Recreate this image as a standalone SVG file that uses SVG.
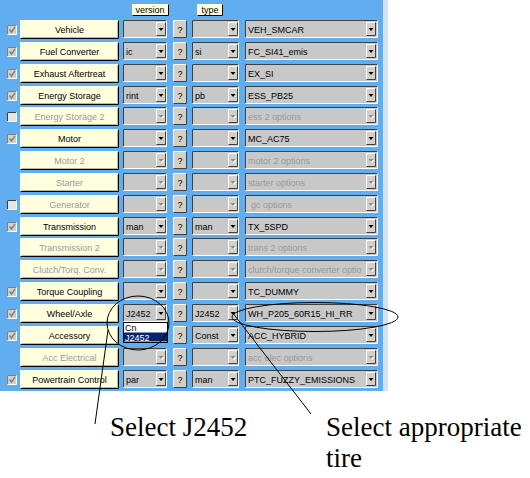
<svg xmlns="http://www.w3.org/2000/svg" xmlns:xlink="http://www.w3.org/1999/xlink" width="530" height="478" viewBox="0 0 530 478">
<style>
text{font-family:"Liberation Sans",Arial,sans-serif;font-size:9px}
.lbl{fill:#FFFFE0}
.sh{fill:none;stroke:#000;stroke-width:1}
.sh2{fill:none;stroke:#808080;stroke-width:1}
.hi{fill:none;stroke:#fff;stroke-width:1}
.dk{fill:none;stroke:#404040;stroke-width:1}
.dd{fill:#C8C8C8}
.btn{fill:#D4D0C8}
.tri{fill:#000}
.trid{fill:#8C8C8C}
.on{fill:#000}
.off{fill:#9A9A9A}
.c{text-anchor:middle}
.note{font-family:"Liberation Serif","Times New Roman",serif;font-size:27px;fill:#000}
.ann{fill:none;stroke:#000;stroke-width:1}
</style>
<defs>
<g id="cbOn"><rect x="7" y="5" width="10" height="10" fill="#D4D0C8"/><path d="M7.5 14.5V5.5H16.5" class="sh2"/><path d="M7.5 14.5H16.5V5.5" class="hi"/><path d="M9.5 9.5l2 2.5l3.5-5" fill="none" stroke="#808080" stroke-width="1.4"/></g>
<g id="cbOff"><rect x="7" y="5" width="10" height="10" fill="#E6E6E6"/><path d="M7.5 14.5V5.5H16.5" class="dk"/><path d="M7.5 14.5H16.5V5.5" class="hi"/></g>
<g id="lblBox"><rect x="20" y="0" width="99" height="19" class="lbl"/><path d="M20.5 18.5H118.5V0.5" class="sh"/><path d="M21.5 17.5H117.5V1.5" fill="none" stroke="#B8B8A0"/></g>
<g id="qBtn"><rect x="173" y="0" width="14" height="18" class="btn"/><path d="M173.5 17.5V0.5H186.5" class="hi"/><path d="M173.5 17.5H186.5V0.5" class="dk"/><text x="180" y="13" class="c on">?</text></g>
<g id="arr"><rect x="0" y="0" width="10" height="14" class="btn"/><path d="M0.5 13.5V0.5H9.5" class="hi"/><path d="M0.5 13.5H9.5V0.5" class="dk"/><path d="M2.5 6h5l-2.5 3z" class="tri"/></g>
<g id="arrD"><rect x="0" y="0" width="10" height="14" class="btn"/><path d="M0.5 13.5V0.5H9.5" class="hi"/><path d="M0.5 13.5H9.5V0.5" class="dk"/><path d="M3.5 7h5l-2.5 3z" fill="#fff"/><path d="M2.5 6h5l-2.5 3z" class="trid"/></g>
<g id="ddV"><rect x="123" y="0" width="44" height="18" class="dd"/><path d="M123.5 17.5V0.5H166.5" class="dk"/><path d="M123.5 17.5H166.5V0.5" class="hi"/></g>
<g id="ddT"><rect x="192" y="0" width="47" height="18" class="dd"/><path d="M192.5 17.5V0.5H238.5" class="dk"/><path d="M192.5 17.5H238.5V0.5" class="hi"/></g>
<g id="ddC"><rect x="245" y="0" width="133" height="18" class="dd"/><path d="M245.5 17.5V0.5H377.5" class="dk"/><path d="M245.5 17.5H377.5V0.5" class="hi"/></g>
<g id="rowOn"><use xlink:href="#lblBox"/><use xlink:href="#ddV"/><use xlink:href="#arr" x="156" y="2"/><use xlink:href="#qBtn"/><use xlink:href="#ddT"/><use xlink:href="#arr" x="228" y="2"/><use xlink:href="#ddC"/><use xlink:href="#arr" x="366" y="2"/></g>
<g id="rowOff"><use xlink:href="#lblBox"/><use xlink:href="#ddV"/><use xlink:href="#arrD" x="156" y="2"/><use xlink:href="#qBtn"/><use xlink:href="#ddT"/><use xlink:href="#arrD" x="228" y="2"/><use xlink:href="#ddC"/><use xlink:href="#arrD" x="366" y="2"/></g>
</defs>
<rect width="530" height="478" fill="#fff"/>
<rect width="383" height="391" fill="#60ADF0"/>
<rect x="383" width="5" height="391" fill="#D0E4F5"/>
<g id="hdr-version"><rect x="132" y="4" width="37" height="12" class="lbl"/><path d="M132.5 15.5H168.5V4.5" class="sh"/><text x="150" y="13" class="c on">version</text></g>
<g id="hdr-type"><rect x="197" y="4" width="26" height="12" class="lbl"/><path d="M197.5 15.5H222.5V4.5" class="sh"/><text x="210" y="13" class="c on">type</text></g>

<g id="row-vehicle" transform="translate(0,20)"><use xlink:href="#cbOn"/><use xlink:href="#rowOn"/><text x="69.5" y="13" class="c on">Vehicle</text><text x="248" y="13" class="on">VEH_SMCAR</text></g>
<g id="row-fuel-converter" transform="translate(0,42)"><use xlink:href="#cbOn"/><use xlink:href="#rowOn"/><text x="69.5" y="13" class="c on">Fuel Converter</text><text x="126" y="13" class="on">ic</text><text x="195" y="13" class="on">si</text><text x="248" y="13" class="on">FC_SI41_emis</text></g>
<g id="row-exhaust" transform="translate(0,64)"><use xlink:href="#cbOn"/><use xlink:href="#rowOn"/><text x="69.5" y="13" class="c on">Exhaust Aftertreat</text><text x="248" y="13" class="on">EX_SI</text></g>
<g id="row-energy-storage" transform="translate(0,86)"><use xlink:href="#cbOn"/><use xlink:href="#rowOn"/><text x="69.5" y="13" class="c on">Energy Storage</text><text x="126" y="13" class="on">rint</text><text x="195" y="13" class="on">pb</text><text x="248" y="13" class="on">ESS_PB25</text></g>
<g id="row-energy-storage-2" transform="translate(0,107)"><use xlink:href="#cbOff"/><use xlink:href="#rowOff"/><text x="69.5" y="13" class="c off">Energy Storage 2</text><text x="248" y="13" class="off">ess 2 options</text></g>
<g id="row-motor" transform="translate(0,129)"><use xlink:href="#cbOn"/><use xlink:href="#rowOn"/><text x="69.5" y="13" class="c on">Motor</text><text x="248" y="13" class="on">MC_AC75</text></g>
<g id="row-motor-2" transform="translate(0,151)"><use xlink:href="#rowOff"/><text x="69.5" y="13" class="c off">Motor 2</text><text x="248" y="13" class="off">motor 2 options</text></g>
<g id="row-starter" transform="translate(0,173)"><use xlink:href="#rowOff"/><text x="69.5" y="13" class="c off">Starter</text><text x="248" y="13" class="off">starter options</text></g>
<g id="row-generator" transform="translate(0,195)"><use xlink:href="#cbOff"/><use xlink:href="#rowOff"/><text x="69.5" y="13" class="c off">Generator</text><text x="251" y="13" class="off">gc options</text></g>
<g id="row-transmission" transform="translate(0,217)"><use xlink:href="#cbOn"/><use xlink:href="#rowOn"/><text x="69.5" y="13" class="c on">Transmission</text><text x="126" y="13" class="on">man</text><text x="195" y="13" class="on">man</text><text x="248" y="13" class="on">TX_5SPD</text></g>
<g id="row-transmission-2" transform="translate(0,238)"><use xlink:href="#rowOff"/><text x="69.5" y="13" class="c off">Transmission 2</text><text x="248" y="13" class="off">trans 2 options</text></g>
<g id="row-clutch" transform="translate(0,260)"><use xlink:href="#rowOff"/><text x="69.5" y="13" class="c off">Clutch/Torq. Conv.</text><text x="248" y="13" class="off">clutch/torque converter optio</text></g>
<g id="row-torque-coupling" transform="translate(0,282)"><use xlink:href="#cbOn"/><use xlink:href="#rowOn"/><text x="69.5" y="13" class="c on">Torque Coupling</text><text x="248" y="13" class="on">TC_DUMMY</text></g>
<g id="row-wheel-axle" transform="translate(0,304)"><use xlink:href="#cbOn"/><use xlink:href="#rowOn"/><text x="69.5" y="13" class="c on">Wheel/Axle</text><text x="126" y="13" class="on">J2452</text><text x="195" y="13" class="on">J2452</text><text x="248" y="13" class="on">WH_P205_60R15_HI_RR</text></g>
<g id="row-accessory" transform="translate(0,326)"><use xlink:href="#cbOn"/><use xlink:href="#lblBox"/><use xlink:href="#qBtn"/><use xlink:href="#ddT"/><use xlink:href="#arr" x="228" y="2"/><use xlink:href="#ddC"/><use xlink:href="#arr" x="366" y="2"/><text x="69.5" y="13" class="c on">Accessory</text><text x="195" y="13" class="on">Const</text><text x="248" y="13" class="on">ACC_HYBRID</text></g>
<g id="row-acc-electrical" transform="translate(0,348)"><use xlink:href="#rowOff"/><text x="69.5" y="13" class="c off">Acc Electrical</text><text x="248" y="13" class="off">acc elec options</text></g>
<g id="row-powertrain" transform="translate(0,370)"><use xlink:href="#cbOn"/><use xlink:href="#rowOn"/><text x="69.5" y="13" class="c on">Powertrain Control</text><text x="126" y="13" class="on">par</text><text x="195" y="13" class="on">man</text><text x="248" y="13" class="on">PTC_FUZZY_EMISSIONS</text></g>

<g id="version-popup"><rect x="123.5" y="322.5" width="44" height="20" fill="#fff" stroke="#000"/><text x="125" y="330.5" class="on">Cn</text><rect x="124" y="332.5" width="43" height="9" fill="#0A246A"/><text x="125" y="340.5" fill="#fff">J2452</text></g>

<g id="connectors">
<ellipse cx="138" cy="323" rx="31" ry="27" class="ann"/>
<ellipse cx="315" cy="317" rx="83" ry="14.5" class="ann"/>
<line x1="95" y1="424" x2="108" y2="330" class="ann"/>
<line x1="311" y1="414" x2="232" y2="312" class="ann"/>
</g>
<g id="note-j2452"><text x="110" y="436" class="note">Select J2452</text></g>
<g id="note-tire"><text x="326" y="436" class="note">Select appropriate</text><text x="326" y="467" class="note">tire</text></g>
</svg>
